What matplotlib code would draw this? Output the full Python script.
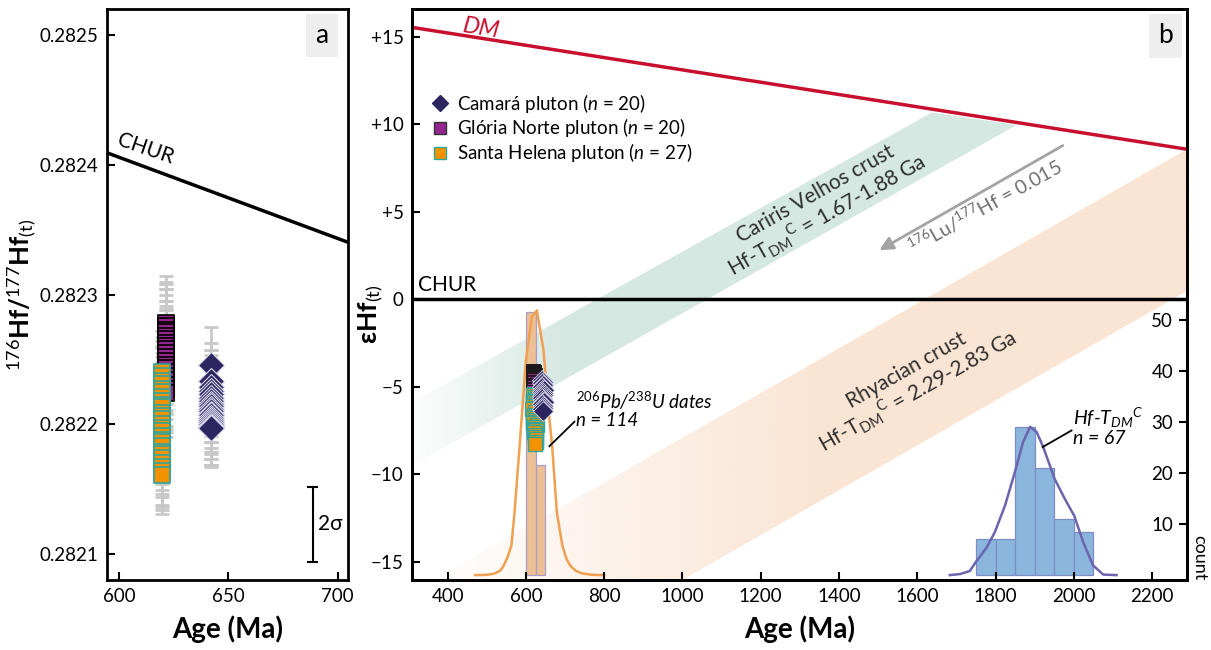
import numpy as np
import matplotlib
matplotlib.use('Agg')
import matplotlib.pyplot as plt
import matplotlib.transforms as mtransforms
from matplotlib.patches import Polygon
from matplotlib.lines import Line2D
from matplotlib.colors import to_rgb

plt.rcParams['font.family'] = ['Lato', 'DejaVu Sans']
plt.rcParams['mathtext.fontset'] = 'custom'
plt.rcParams['mathtext.rm'] = 'Lato'
plt.rcParams['mathtext.it'] = 'Lato:italic'
plt.rcParams['mathtext.bf'] = 'Lato:bold'

# ---- panel a : 176Hf/177Hf(t) ----
camara_age_a = [642] * 20
camara_hf = [0.282246, 0.282233, 0.282229, 0.282226, 0.282223, 0.28222, 0.282218, 0.282216,
             0.282214, 0.282212, 0.28221, 0.282208, 0.282207, 0.282205, 0.282203, 0.282202,
             0.2822, 0.282199, 0.282198, 0.282197]
camara_err = [0.000029, 0.000030, 0.000028, 0.000031, 0.000030, 0.000029, 0.000032, 0.000030,
              0.000028, 0.000030, 0.000031, 0.000029, 0.000030, 0.000032, 0.000030, 0.000029,
              0.000031, 0.000030, 0.000029, 0.000030]
gloria_age_a = [621.5] * 20
gloria_hf = [0.282278, 0.282276, 0.282273, 0.282271, 0.282268, 0.282266, 0.282263, 0.28226,
             0.282258, 0.282255, 0.282252, 0.282249, 0.282246, 0.282243, 0.28224, 0.282237,
             0.282234, 0.28223, 0.282227, 0.282224]
gloria_err = [0.000036, 0.000034, 0.000035, 0.000033, 0.000036, 0.000034, 0.000032, 0.000035,
              0.000033, 0.000034, 0.000036, 0.000033, 0.000035, 0.000034, 0.000032, 0.000033,
              0.000035, 0.000034, 0.000033, 0.000034]
helena_age_a = [619.5] * 27
helena_hf = [0.28224, 0.282237, 0.282233, 0.282231, 0.282227, 0.282225, 0.282221, 0.282218,
             0.282215, 0.282213, 0.282209, 0.282206, 0.282204, 0.2822, 0.282197, 0.282195,
             0.282191, 0.282188, 0.282186, 0.282183, 0.282179, 0.282177, 0.282174, 0.28217,
             0.282167, 0.282164, 0.282161]
helena_err = [0.000032, 0.000030, 0.000031, 0.000029, 0.000032, 0.000030, 0.000031, 0.000030,
              0.000029, 0.000031, 0.000030, 0.000032, 0.000030, 0.000029, 0.000031, 0.000030,
              0.000032, 0.000030, 0.000031, 0.000029, 0.000030, 0.000031, 0.000030, 0.000032,
              0.000031, 0.000030, 0.000030]
chur_age_a = [590, 710]
chur_hf = [0.282412, 0.282337]
sigma_age = 688.7
sigma_hf = [0.282094, 0.282152]

# ---- panel b : epsilon Hf(t) ----
dm_age = [309, 2289]
dm_eps = [15.55, 8.58]
cv_band_age = [309, 1637, 1854, 309]
cv_band_eps = [-5.9, 10.68, 9.97, -9.5]
rh_band_age = [309, 2289, 2289, 309]
rh_band_eps = [-16.76, 8.58, 0.48, -24.9]
lu_arrow_from = (1978, 8.87)
lu_arrow_to = (1497, 2.73)

camara_age_b = [641, 643, 642, 644, 641, 643, 645, 642, 644, 643, 641, 642, 644, 643, 645, 642,
                643, 644, 642, 643]
camara_eps = [-4.6, -4.7, -4.8, -4.9, -5.0, -5.1, -5.2, -5.3, -5.35, -5.45, -5.55, -5.65, -5.75,
              -5.85, -5.9, -6.0, -6.1, -6.2, -6.3, -6.4]
gloria_age_b = [619, 620, 621, 620, 622, 619, 620, 621, 620, 619, 621, 620, 622, 620, 619, 621,
                620, 620, 621, 619]
gloria_eps = [-4.1, -4.15, -4.2, -4.25, -4.3, -4.35, -4.4, -4.45, -4.5, -4.55, -4.6, -4.7, -4.75,
              -4.8, -4.9, -4.95, -5.0, -5.1, -5.2, -5.3]
helena_age_b = [620, 618, 622, 625, 617, 621, 626, 619, 623, 616, 624, 620, 627, 618, 622, 625,
                619, 628, 621, 623, 626, 620, 624, 622, 627, 625, 623]
helena_eps = [-5.4, -5.5, -5.6, -5.7, -5.8, -5.9, -6.0, -6.1, -6.2, -6.3, -6.45, -6.6, -6.7, -6.8,
              -6.9, -7.0, -7.1, -7.2, -7.3, -7.4, -7.5, -7.6, -7.75, -7.9, -8.0, -8.15, -8.3]

pb_edges = [600, 625, 650]
pb_counts = [51.5, 21.5]
pb_kde_age = [470, 500, 520, 535, 543, 553, 563, 571, 584, 600, 615, 628, 645, 657, 667, 679,
              693, 704, 714, 728, 745, 770, 800]
pb_kde = [0, 0.05, 0.3, 0.9, 1.8, 3.5, 5.8, 12.3, 25.3, 42, 50.5, 51.8, 44, 33, 25.3, 12.3, 5.8,
          3.1, 1.8, 0.8, 0.3, 0.05, 0]
hf_edges = [1750, 1800, 1850, 1900, 1950, 2000, 2050]
hf_counts = [7, 7, 29, 21, 11, 8.5]
hf_kde_age = [1683, 1709, 1734, 1749, 1777, 1798, 1824, 1849, 1870, 1888, 1905, 1922, 1951, 1977,
              2001, 2024, 2049, 2075, 2109]
hf_kde = [0, 0.2, 0.8, 2.5, 5.4, 8.4, 13.6, 20.1, 26, 29, 28, 25, 18.8, 14.9, 11.6, 6.4, 1.9, 0.1, 0]

eps_ticks = [15, 10, 5, 0, -5, -10, -15]
eps_labels = ['+15', '+10', '+5', '0', '\u22125', '\u221210', '\u221215']
count_ticks = [10, 20, 30, 40, 50]

c_camara = '#2b2660'
c_gloria = '#93278f'
c_helena = '#f39200'
c_helena_edge = '#2fa59c'
tick_fs = 13.5

fig = plt.figure(figsize=(12.11, 6.5), dpi=100)
axa = fig.add_axes([107 / 1211, 70 / 650, 241 / 1211, 571 / 650])
axb = fig.add_axes([412 / 1211, 70 / 650, 775 / 1211, 571 / 650])

# ---------------- panel a ----------------
axa.plot(chur_age_a, chur_hf, color='black', lw=2.5, zorder=2)
axa.text(612, 0.282412, 'CHUR', rotation=-19, ha='center', va='center', fontsize=15)
for ages, vals, errs in ((gloria_age_a, gloria_hf, gloria_err),
                         (helena_age_a, helena_hf, helena_err),
                         (camara_age_a, camara_hf, camara_err)):
    axa.errorbar(ages, vals, yerr=errs, fmt='none', ecolor='#c8c8c8',
                 elinewidth=2, capsize=5, capthick=2, zorder=3)
axa.plot(gloria_age_a, gloria_hf, 's', ms=12, mfc=c_gloria, mec='black', mew=1.2, zorder=4)
axa.plot(helena_age_a, helena_hf, 's', ms=12, mfc=c_helena, mec=c_helena_edge, mew=1.2, zorder=5)
axa.plot(camara_age_a, camara_hf, 'D', ms=13, mfc=c_camara, mec='#d8d6ea', mew=0.8, zorder=5)
axa.plot([sigma_age, sigma_age], sigma_hf, color='black', lw=1.5)
axa.plot([sigma_age - 2, sigma_age + 2], [sigma_hf[0]] * 2, color='black', lw=1.5)
axa.plot([sigma_age - 2, sigma_age + 2], [sigma_hf[1]] * 2, color='black', lw=1.5)
axa.text(sigma_age + 2.5, np.mean(sigma_hf), '2\u03c3', ha='left', va='center', fontsize=15)
axa.set_xlim(594.5, 704.8)
axa.set_ylim(0.28208, 0.28252)
axa.set_xticks([600, 650, 700])
axa.set_yticks([0.2821, 0.2822, 0.2823, 0.2824, 0.2825])
axa.set_yticklabels(['0.2821', '0.2822', '0.2823', '0.2824', '0.2825'])
axa.set_xlabel('Age (Ma)', fontsize=20, fontweight='bold', labelpad=7)
axa.set_ylabel('$^{176}$Hf/$^{177}$Hf$_{\\mathrm{(t)}}$', fontsize=18.5, fontweight='bold')
axa.yaxis.set_label_coords(-0.285, 0.5)
axa.text(0.892, 0.954, 'a', transform=axa.transAxes, ha='center', va='center', fontsize=19,
         bbox=dict(boxstyle='square,pad=0.35', fc='#eeeeee', ec='none'))

# ---------------- panel b ----------------
xmin, xmax, ymin, ymax = 309, 2289, -16.05, 16.6


def gradient_band(ax, ages, eps, color, full_at, a0):
    poly = Polygon(np.column_stack([ages, eps]), closed=True, fc='none', ec='none')
    ax.add_patch(poly)
    xs = np.linspace(xmin, xmax, 400)
    alpha = a0 + (1 - a0) * np.clip((xs - xmin) / (full_at - xmin), 0, 1)
    img = np.zeros((2, xs.size, 4))
    img[..., :3] = to_rgb(color)
    img[..., 3] = alpha
    im = ax.imshow(img, extent=[xmin, xmax, ymin, ymax], aspect='auto', origin='lower',
                   interpolation='bilinear', zorder=0.5)
    im.set_clip_path(poly)


gradient_band(axb, cv_band_age, cv_band_eps, '#d5e8e1', 700, 0.05)
gradient_band(axb, rh_band_age, rh_band_eps, '#fae5d4', 1350, 0.0)

axc = axb.twinx()
bt = mtransforms.blended_transform_factory(axb.transData, axc.transData)

axb.bar(pb_edges[:-1], pb_counts, width=np.diff(pb_edges), align='edge', color='#edbf94',
        edgecolor='#a89fc9', lw=0.9, transform=bt, zorder=1)
axb.plot(pb_kde_age, pb_kde, color='#f0a050', lw=1.8, transform=bt, zorder=1.5)
axb.bar(hf_edges[:-1], hf_counts, width=np.diff(hf_edges), align='edge', color='#8ab5dc',
        edgecolor='#7d8ec6', lw=0.9, transform=bt, zorder=1)
axb.plot(hf_kde_age, hf_kde, color='#6c64ae', lw=1.8, transform=bt, zorder=1.5)

axb.plot(dm_age, dm_eps, color='#c8102e', lw=2.5, zorder=3)
axb.axhline(0, color='black', lw=2.5, zorder=3)
axb.text(485, 15.46, 'DM', color='#c8102e', style='italic', fontsize=17, rotation=-9,
         ha='center', va='center')
axb.text(324, 0.25, 'CHUR', ha='left', va='bottom', fontsize=15)

axb.annotate('', xy=lu_arrow_to, xytext=lu_arrow_from,
             arrowprops=dict(arrowstyle='-|>', color='#a3a3a3', lw=2, mutation_scale=20))
axb.text(1773, 5.3, '$^{176}$Lu/$^{177}$Hf = 0.015', color='#6e6e6e', fontsize=14,
         rotation=29, ha='center', va='center', rotation_mode='anchor')
axb.text(1357, 5.35, 'Cariris Velhos crust\nHf-T$_{\\mathrm{DM}}$$^{\\mathrm{C}}$ = 1.67-1.88 Ga',
         color='#2e2e2e', fontsize=15, rotation=29.5, ha='center', va='center',
         multialignment='center', rotation_mode='anchor', linespacing=1.05)
axb.text(1589, -4.74, 'Rhyacian crust\nHf-T$_{\\mathrm{DM}}$$^{\\mathrm{C}}$ = 2.29-2.83 Ga',
         color='#2e2e2e', fontsize=15, rotation=29.5, ha='center', va='center',
         multialignment='center', rotation_mode='anchor', linespacing=1.05)

axb.text(729, -6.27, '$^{\\mathit{206}}$Pb/$^{\\mathit{238}}$U dates\nn = 114', style='italic',
         fontsize=13.5, ha='left', va='center', linespacing=1.0, zorder=6)
axb.plot([724, 660], [-7.0, -8.4], color='black', lw=1.3, zorder=6)
axb.text(1998, -7.24, 'Hf-$T_{DM}$$^{C}$\nn = 67', style='italic', fontsize=14, ha='left',
         va='center', linespacing=1.0, zorder=6)
axb.plot([1994, 1920], [-7.5, -8.45], color='black', lw=1.3, zorder=6)

axb.plot(gloria_age_b, gloria_eps, 's', ms=9.5, mfc=c_gloria, mec='#1a1a1a', mew=0.7, zorder=4)
axb.plot(helena_age_b, helena_eps, 's', ms=9.5, mfc=c_helena, mec=c_helena_edge, mew=1.0, zorder=5)
axb.plot(camara_age_b, camara_eps, 'D', ms=10, mfc=c_camara, mec='#d8d6ea', mew=0.6, zorder=6)

handles = [
    Line2D([], [], ls='none', marker='D', ms=8, mfc=c_camara, mec=c_camara),
    Line2D([], [], ls='none', marker='s', ms=9, mfc=c_gloria, mec='#333333', mew=1),
    Line2D([], [], ls='none', marker='s', ms=9, mfc=c_helena, mec=c_helena_edge, mew=1),
]
axb.legend(handles, ['Camará pluton ($n$ = 20)', 'Glória Norte pluton ($n$ = 20)',
                     'Santa Helena pluton ($n$ = 27)'],
           loc='upper left', bbox_to_anchor=(0.0, 0.885), frameon=False, fontsize=13.5,
           handletextpad=0.3, labelspacing=0.1, handlelength=1.2)

axb.set_xlim(xmin, xmax)
axb.set_ylim(ymin, ymax)
axb.set_xticks(list(range(400, 2201, 200)))
axb.set_yticks(eps_ticks)
axb.set_yticklabels(eps_labels)
axb.set_xlabel('Age (Ma)', fontsize=20, fontweight='bold', labelpad=7)
axb.set_ylabel('\u03b5Hf$_{\\mathrm{(t)}}$', fontsize=19, fontweight='bold')
axb.yaxis.set_label_coords(-0.034, 0.465)
axb.text(0.972, 0.953, 'b', transform=axb.transAxes, ha='center', va='center', fontsize=19,
         bbox=dict(boxstyle='square,pad=0.35', fc='#eeeeee', ec='none'))

axc.set_ylim(-0.96, 110.8)
axc.set_yticks(count_ticks)
axc.tick_params(axis='y', direction='in', length=6, width=1.5, pad=-10, labelsize=tick_fs)
for t in axc.yaxis.get_major_ticks():
    t.label2.set_horizontalalignment('right')
axc.text(1.006, 0.0, 'count', transform=axc.transAxes, rotation=270, ha='left', va='bottom',
         fontsize=13)

for ax in (axa, axb, axc):
    for s in ax.spines.values():
        s.set_linewidth(2)
for ax in (axa, axb):
    ax.tick_params(direction='in', length=6, width=1.5, labelsize=tick_fs, pad=6)

fig.savefig('out.png', dpi=100)
